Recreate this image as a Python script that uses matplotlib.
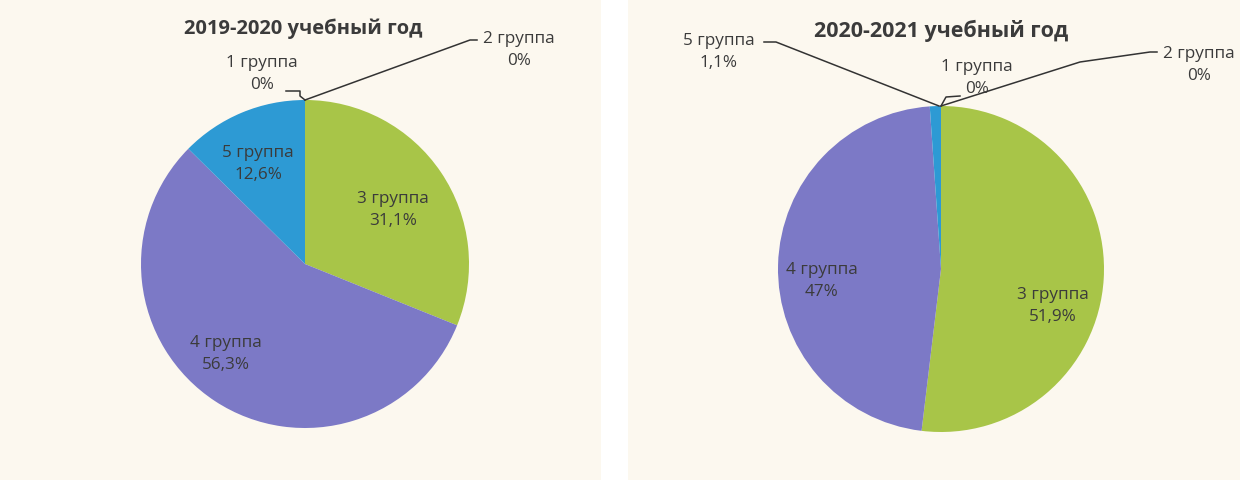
##### pie charts: health groups by school year #####
import matplotlib.pyplot as plt

plt.rcParams['font.family'] = ['Open Sans', 'DejaVu Sans']

##### data #####
groups = ['1 группа', '2 группа', '3 группа', '4 группа', '5 группа']
share_2019 = [0, 0, 31.1, 56.3, 12.6]
share_2020 = [0, 0, 51.9, 47, 1.1]
pct_2019 = ['0%', '0%', '31,1%', '56,3%', '12,6%']
pct_2020 = ['0%', '0%', '51,9%', '47%', '1,1%']
titles = ['2019-2020 учебный год', '2020-2021 учебный год']

colors = ['#4f81bd', '#c0504d', '#a8c548', '#7c79c6', '#2d9ad4']
bg = '#fcf8ef'
txt = '#3b3b3b'

W, H = 1240, 481
fig = plt.figure(figsize=(W / 100, H / 100), dpi=100)
fig.patch.set_facecolor('white')


def panel(x0, x1):
    ax = fig.add_axes([x0 / W, 0, (x1 - x0) / W, 1])
    return ax


def setup(ax, x0, x1):
    # pixel coordinates, y going down like the picture
    ax.set_xlim(x0, x1)
    ax.set_ylim(H, 0)
    ax.set_frame_on(True)
    ax.set_facecolor(bg)
    for s in ax.spines.values():
        s.set_visible(False)
    ax.set_xticks([])
    ax.set_yticks([])


def label(ax, x, y, name, pct):
    ax.text(x, y, name + '\n' + pct, ha='center', va='center', fontsize=12.3,
            color=txt, linespacing=1.45)


# left chart
ax1 = panel(0, 601)
cx, cy, r = 305, 265, 164
# y axis is inverted: start at -90 and go "counterclock" -> top, clockwise on screen
ax1.pie(share_2019, colors=colors, startangle=-90, counterclock=True,
        center=(cx, cy), radius=r, frame=True,
        wedgeprops=dict(linewidth=0))
setup(ax1, 0, 601)
ax1.text(cx - 2, 29, titles[0], ha='center', va='center', fontsize=14.5,
         fontweight='bold', color=txt)
label(ax1, 262, 74, groups[0], pct_2019[0])
label(ax1, 519, 50, groups[1], pct_2019[1])
label(ax1, 393, 210, groups[2], pct_2019[2])
label(ax1, 226, 354, groups[3], pct_2019[3])
label(ax1, 258, 164, groups[4], pct_2019[4])
top = (cx, cy - r)
ax1.plot([286, 300, 300, top[0]], [92, 92, 97, top[1]], color='#333333', lw=1.1)
ax1.plot([top[0], 470, 477], [top[1], 41, 41], color='#333333', lw=1.1)

# right chart
ax2 = panel(628, W)
cx, cy, r = 941, 270, 163
ax2.pie(share_2020, colors=colors, startangle=-90, counterclock=True,
        center=(cx, cy), radius=r, frame=True,
        wedgeprops=dict(linewidth=0))
setup(ax2, 628, W)
ax2.text(cx, 31, titles[1], ha='center', va='center', fontsize=15.5,
         fontweight='bold', color=txt)
label(ax2, 977, 78, groups[0], pct_2020[0])
label(ax2, 1199, 65, groups[1], pct_2020[1])
label(ax2, 1053, 306, groups[2], pct_2020[2])
label(ax2, 822, 281, groups[3], pct_2020[3])
label(ax2, 719, 52, groups[4], pct_2020[4])
top = (cx, cy - r)
ax2.plot([764, 776, top[0] - 2], [43, 43, top[1]], color='#333333', lw=1.1)
ax2.plot([top[0], 946, 960], [top[1], 98, 97], color='#333333', lw=1.1)
ax2.plot([top[0], 1080, 1150, 1157], [top[1], 63, 53, 53], color='#333333', lw=1.1)

fig.savefig('out.png', dpi=100, facecolor=fig.get_facecolor())
